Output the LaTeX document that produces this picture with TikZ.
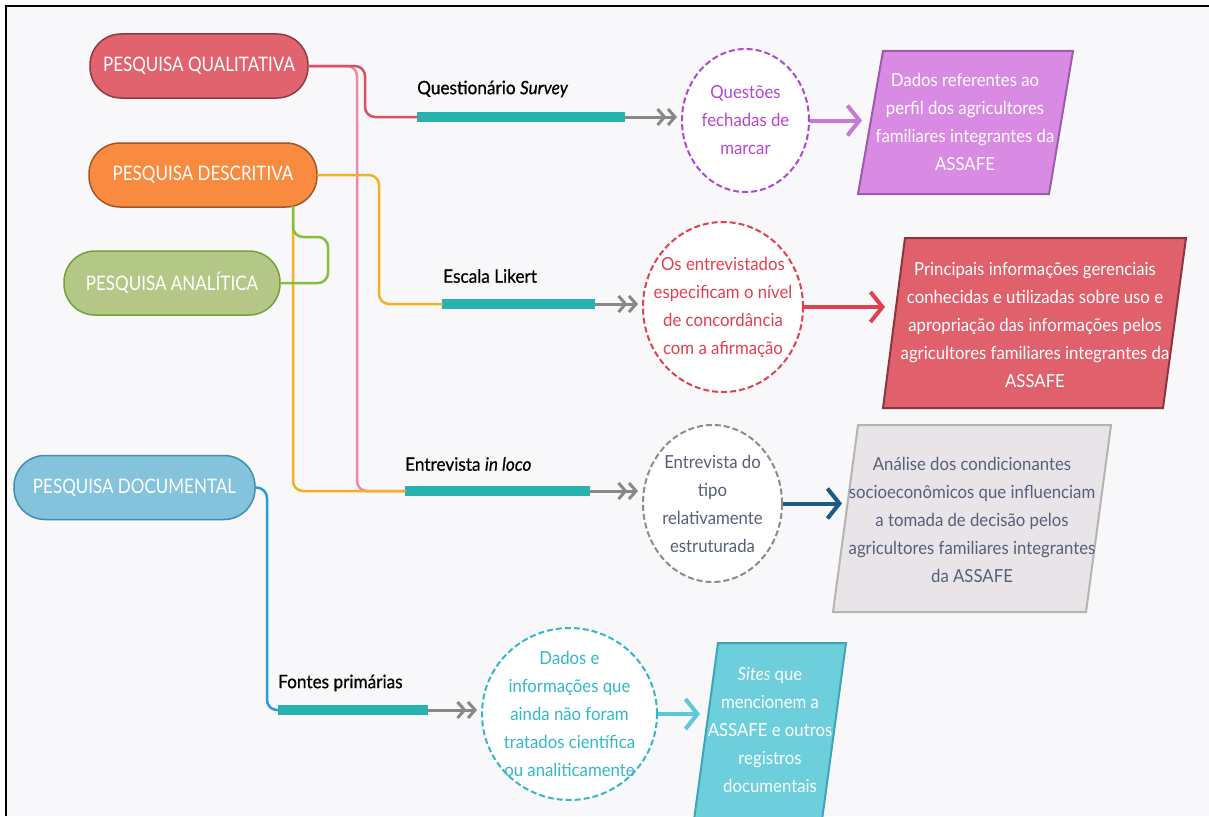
\documentclass[tikz,border=0pt]{standalone}
\usepackage{fontspec}
\setmainfont{Lato}[FakeStretch=0.93]
\newfontfamily\pillfont{Lato}[FakeStretch=0.85]
\newfontfamily\lblfont{Lato}[FakeStretch=0.93, FakeBold=0.6]
\usetikzlibrary{arrows.meta,shapes.geometric}
\definecolor{bgc}{HTML}{F8F8FB}
\definecolor{qualfill}{HTML}{E0636E}
\definecolor{qualdraw}{HTML}{8E3B45}
\definecolor{descfill}{HTML}{F98B40}
\definecolor{descdraw}{HTML}{A0552A}
\definecolor{analfill}{HTML}{B3C886}
\definecolor{analdraw}{HTML}{74A03A}
\definecolor{docfill}{HTML}{85C3DC}
\definecolor{docdraw}{HTML}{3F8DB0}
\definecolor{tealbar}{HTML}{27B1AF}
\definecolor{greyarrow}{HTML}{888888}
\definecolor{pinkline}{HTML}{F08AA0}
\definecolor{redline}{HTML}{DC5063}
\definecolor{orangeline}{HTML}{F4B022}
\definecolor{greenline}{HTML}{84BF3C}
\definecolor{blueline}{HTML}{2B9CD8}
\definecolor{purplec}{HTML}{B347CF}
\definecolor{purplearrow}{HTML}{C47AD8}
\definecolor{purplefill}{HTML}{D98AE3}
\definecolor{purpledraw}{HTML}{9C5BAC}
\definecolor{redc}{HTML}{E0404F}
\definecolor{redfill}{HTML}{E0616C}
\definecolor{reddraw}{HTML}{8A3540}
\definecolor{greyc}{HTML}{8C8C8C}
\definecolor{greytext}{HTML}{56607A}
\definecolor{greyfill}{HTML}{E8E4E8}
\definecolor{greydraw}{HTML}{B4B4B4}
\definecolor{darkblue}{HTML}{1D5B82}
\definecolor{tealc}{HTML}{33B8C8}
\definecolor{tealfill}{HTML}{6DCFDC}
\definecolor{tealdraw}{HTML}{3BA6B6}
\definecolor{tealarrow}{HTML}{5CC8D8}
\begin{document}
\begin{tikzpicture}[x=1pt,y=-1pt,
  pill/.style={rectangle, rounded corners=31pt, minimum width=#1, minimum height=64pt,
    inner sep=0pt, line width=1.5pt, text=white, font=\pillfont\fontsize{20}{22}\selectfont},
  bar/.style={rectangle, fill=tealbar, minimum height=10pt, minimum width=#1, inner sep=0pt},
  lbl/.style={anchor=west, inner sep=0pt, text=black, font=\lblfont\fontsize{18.5}{20}\selectfont},
  circ/.style={ellipse, fill=white, line width=2pt, dash pattern=on 6pt off 3pt, inner sep=0pt},
  ctext/.style={align=center, inner sep=0pt, font=\fontsize{18}{28}\selectfont},
  para/.style={line width=2pt, line join=miter},
  conn/.style={line width=2.5pt, rounded corners=10pt, line cap=round},
  dbl/.style={draw=greyarrow, line width=3pt, shorten >=4pt,
    -{Straight Barb[length=7pt,width=16pt]Straight Barb[length=7pt,width=16pt]}},
  solid arrow/.style={line width=4pt, -{Straight Barb[length=12pt,width=30pt]}}
]
\useasboundingbox (0,0) rectangle (1209,816);
\fill[white] (0,0) rectangle (1209,816);
\fill[bgc] (6,6) rectangle (1209,816);
\draw[line width=2.5pt] (6,816) -- (6,6) -- (1209,6);

% parallelograms
\fill[purplefill] (883,51) -- (1073,51) -- (1049,194) -- (858,194) -- cycle;
\draw[para, draw=purpledraw] (883,51) -- (1073,51) -- (1049,194) -- (858,194) -- cycle;
\fill[redfill] (905,238) -- (1186,238) -- (1163,408) -- (883,408) -- cycle;
\draw[para, draw=reddraw] (905,238) -- (1186,238) -- (1163,408) -- (883,408) -- cycle;
\fill[greyfill] (858,425) -- (1111,425) -- (1086,612) -- (833,612) -- cycle;
\draw[para, draw=greydraw] (858,425) -- (1111,425) -- (1086,612) -- (833,612) -- cycle;
\fill[tealfill] (718,643) -- (846,643) -- (822,820) -- (694,820) -- cycle;
\draw[para, draw=tealdraw] (694,820) -- (718,643) -- (846,643) -- (822,820);

\node[ctext, text=white] (p1) at (965,122) {Dados referentes ao\\perfil dos agricultores\\familiares integrantes da\\ASSAFE};
\node[ctext, text=white] (p2) at (1035,325) {Principais informações gerenciais\\conhecidas e utilizadas sobre uso e\\apropriação das informações pelos\\agricultores familiares integrantes da\\ASSAFE};
\node[ctext, text=greytext] (p3) at (972,520) {Análise dos condicionantes\\socioeconômicos que influenciam\\a tomada de decisão pelos\\agricultores familiares integrantes\\da ASSAFE};
\node[ctext, text=white] (p4) at (770,730) {\textit{Sites} que\\mencionem a\\ASSAFE e outros\\registros\\documentais};
\coordinate (p1in) at (862,120.5);
\coordinate (p2in) at (885,307);
\coordinate (p3in) at (842,503.5);
\coordinate (p4in) at (700,714);

% pills
\node[pill=218, fill=qualfill, draw=qualdraw] (qual) at (199,66) {PESQUISA QUALITATIVA};
\node[pill=228, fill=descfill, draw=descdraw] (desc) at (203,175) {PESQUISA DESCRITIVA};
\node[pill=216, fill=analfill, draw=analdraw] (anal) at (172,283) {PESQUISA ANALÍTICA};
\node[pill=241, fill=docfill, draw=docdraw] (doc) at (134.5,487.5) {PESQUISA DOCUMENTAL};
\coordinate (dbot) at (293,207);

% bars and labels
\node[bar=208] (b1) at (521,117) {};
\node[bar=153] (b2) at (518.5,304) {};
\node[bar=185] (b3) at (497.5,491) {};
\node[bar=150] (b4) at (353,710) {};
\node[lbl] (l1) at (417,89) {Questionário \textit{Survey}};
\node[lbl] (l2) at (443,276) {Escala Likert};
\node[lbl] (l3) at (405,464) {Entrevista \textit{in loco}};
\node[lbl] (l4) at (278,683) {Fontes primárias};

% circles
\node[circ, draw=purplec, minimum width=127pt, minimum height=143pt] (q) at (745.5,120.5) {};
\node[ctext, text=purplec] (qt) at (q) {Questões\\fechadas de\\marcar};
\node[circ, draw=redc, minimum width=160pt, minimum height=170pt] (e) at (723,307) {};
\node[ctext, text=redc] (et) at (e) {Os entrevistados\\especificam o nível\\de concordância\\com a afirmação};
\node[circ, draw=greyc, minimum width=139pt, minimum height=157pt] (g) at (712.5,503.5) {};
\node[ctext, text=greytext] (gt) at (g) {Entrevista do\\tipo\\relativamente\\estruturada};
\node[circ, draw=tealc, minimum width=175pt, minimum height=172pt] (d) at (569.5,714) {};
\node[ctext, text=tealc] (dt) at (d) {Dados e\\informações que\\ainda não foram\\tratados científica\\ou analiticamente};

% connectors from pills
\draw[conn, draw=pinkline] (qual.east) -- (357,66) -- (357,491) -- (b3.west);
\draw[conn, draw=redline] (qual.east) -- (365,66) -- (365,117) -- (b1.west);
\draw[conn, draw=orangeline] (desc.east) -- (379,175) -- (379,304) -- (b2.west);
\draw[conn, draw=orangeline] (dbot) -- (293,491) -- (b3.west);
\draw[conn, draw=greenline] (dbot) -- (293,237) -- (328,237) -- (328,283) -- (anal.east);
\draw[conn, draw=blueline] (doc.east) -- (267,488) -- (267,710) -- (b4.west);

% double arrows
\draw[dbl] (b1.east) -- (b1.east -| q.west);
\draw[dbl] (b2.east) -- (b2.east -| e.west);
\draw[dbl] (b3.east) -- (b3.east -| g.west);
\draw[dbl] (b4.east) -- (b4.east -| d.west);

% solid arrows
\draw[solid arrow, draw=purplearrow] (q.east) -- (p1in);
\draw[solid arrow, draw=redc] (e.east) -- (p2in);
\draw[solid arrow, draw=darkblue] (g.east) -- (p3in);
\draw[solid arrow, draw=tealarrow] (d.east) -- (p4in);
\end{tikzpicture}
\end{document}
